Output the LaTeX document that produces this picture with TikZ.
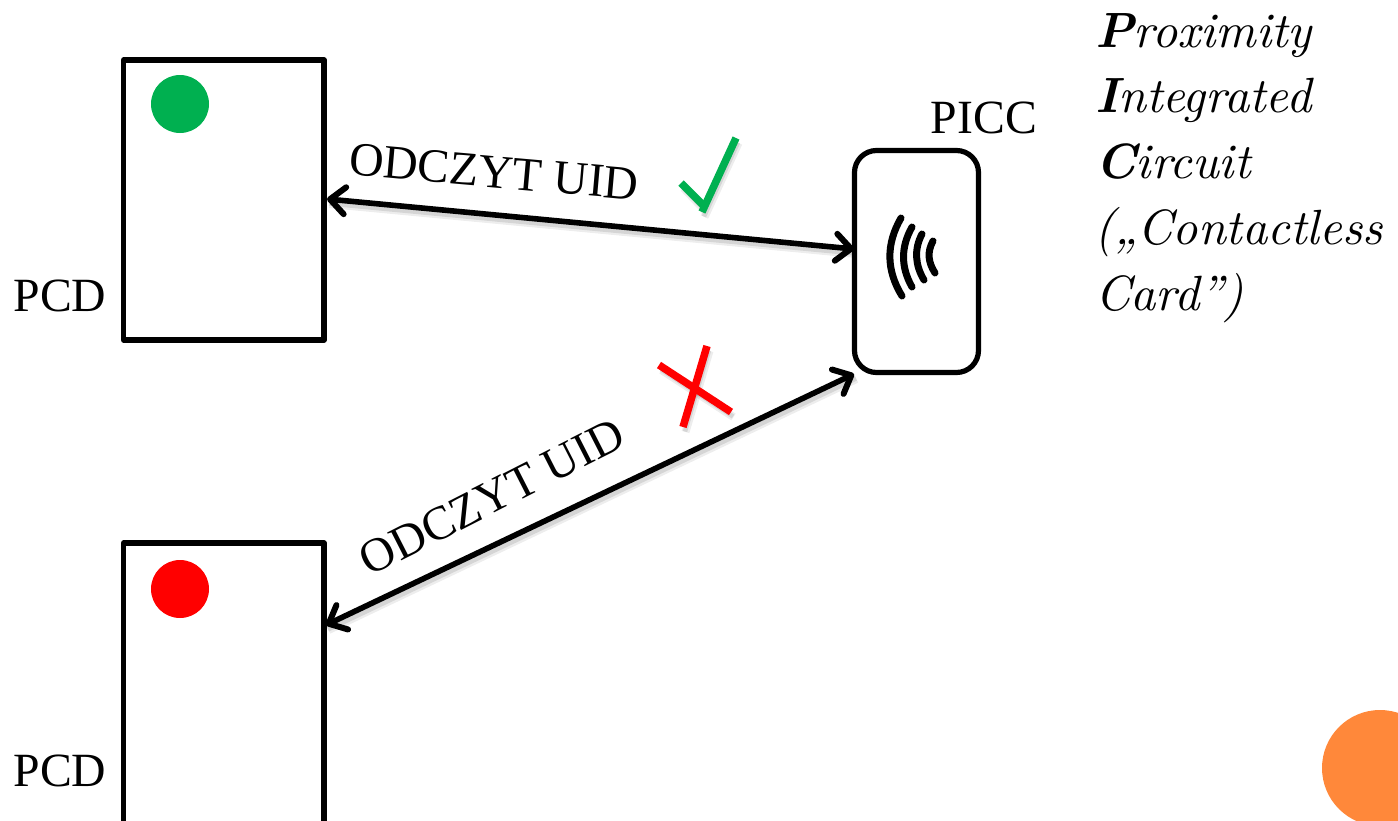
\documentclass[tikz,border=0pt]{standalone}
\usepackage{fontspec}
\newcommand{\itlm}{\usefont{TU}{lmr}{m}{it}}
\newcommand{\bilm}{\usefont{TU}{lmr}{bx}{it}}
\setmainfont{Liberation Serif}
\usetikzlibrary{arrows.meta}
\definecolor{okgreen}{HTML}{00B050}
\definecolor{orangec}{HTML}{FF883A}
\tikzset{
  boxpcd/.style={draw=black,line width=5.2pt,line join=round,minimum width=200.5pt,inner sep=0pt,outer sep=0pt,anchor=north west},
  cardbox/.style={draw=black,line width=5.2pt,rounded corners=22pt,minimum width=124pt,minimum height=222pt,inner sep=0pt,outer sep=0pt},
  lbl/.style={inner sep=0pt,font=\fontsize{47.7}{48}\selectfont},
  barbs/.style={{Straight Barb[length=15pt,width=27pt,line width=6pt,round]}-{Straight Barb[length=15pt,width=27pt,line width=6pt,round]}},
  conn/.style={line width=5.6pt,black,barbs},
  shadowa/.style={line width=8pt,black,opacity=0.07,transform canvas={shift={(2.5pt,-5pt)}}},
  shadowb/.style={line width=4.5pt,black,opacity=0.10,transform canvas={shift={(2pt,-4.5pt)}}},
  wave/.style={line width=7pt,line cap=round,black},
  mark1/.style={line width=7.5pt,okgreen},
  mark2/.style={line width=7.5pt,red},
  dotc/.style={circle,minimum size=58pt,inner sep=0pt},
  rtext/.style={anchor=base west,inner sep=0pt,scale=4.95,font=\itlm\fontsize{10}{12}\selectfont},
}
\begin{document}
\begin{tikzpicture}[x=1pt,y=-1pt]
\useasboundingbox (0,0) rectangle (1398,820);
\clip (0,0) rectangle (1398,820);
\node[circle,fill=orangec,minimum size=116pt,inner sep=0pt] (deco) at (1380,768) {};
\node[boxpcd,minimum height=280pt] (pcdA) at (123.5,60) {};
\node[boxpcd,minimum height=290pt] (pcdB) at (123.5,543) {};
\node[cardbox] (card) at (916.5,261.5) {};
\node[dotc,fill=okgreen] (dotA) at (180,104) {};
\node[dotc,fill=red] (dotB) at (180,589) {};
\node[lbl] (pcdAl) at (60,296) {PCD};
\node[lbl] (pcdBl) at (60,771) {PCD};
\node[lbl] (piccl) at (984,118) {PICC};
\node[lbl,rotate=-5] (readA) at (494,172) {ODCZYT UID};
\node[lbl,rotate=27] (readB) at (492,497) {ODCZYT UID};
\coordinate (aA) at (327,199);
\coordinate (aC) at (854,249);
\coordinate (bB) at (326,625);
\coordinate (bC) at (854,374);
\foreach \s in {shadowa,shadowb}{
  \draw[\s] (aA) -- (aC);
  \draw[\s] (bB) -- (bC);
  \draw[\s] (681,183) -- (703,206);
  \draw[\s] (702,212) -- (736,138);
  \draw[\s] (659,365) -- (731,412);
  \draw[\s] (707,346) -- (683,427);
}
\draw[conn] (aA) -- (aC);
\draw[conn] (bB) -- (bC);
% contactless symbol
\draw[wave] (901,218) .. controls (886,244) and (886,270) .. (902,296);
\draw[wave] (912,227) .. controls (900.7,247) and (900.7,267) .. (912,287);
\draw[wave] (922,234) .. controls (914,249) and (915,265) .. (924,280);
\draw[wave] (933,241) .. controls (927,252) and (928,262) .. (935,273);
% check mark
\draw[mark1] (681,183) -- (704,206);
\draw[mark1] (702,212) -- (736,138);
% cross
\draw[mark2] (659,365) -- (731,412);
\draw[mark2] (707,346) -- (683,427);
% text
\node[rtext] (t1) at (1094,47) {{\bilm P}roximity};
\node[rtext] (t2) at (1094,112) {{\bilm I}ntegrated};
\node[rtext] (t3) at (1094,178) {{\bilm C}ircuit};
\node[rtext] (t4) at (1093,244) {(„Contactless};
\node[rtext] (t5) at (1094,310) {Card”)};
\end{tikzpicture}
\end{document}
